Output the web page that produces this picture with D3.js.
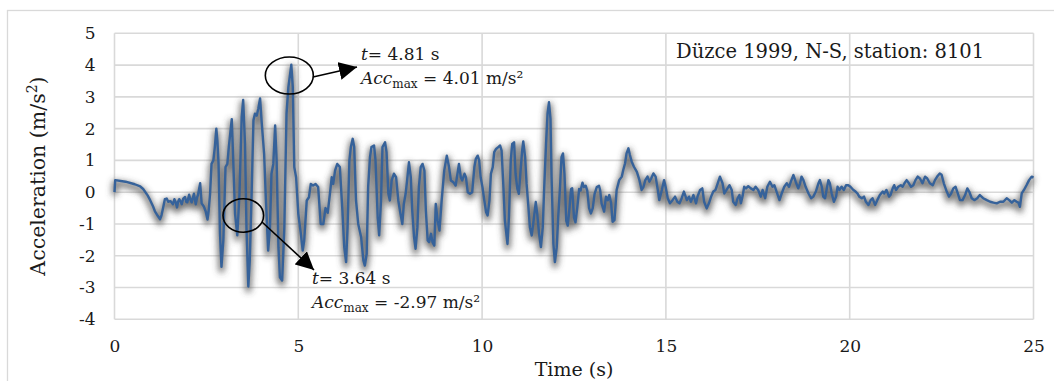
<!DOCTYPE html>
<html><head><meta charset="utf-8">
<script src="https://cdn.jsdelivr.net/npm/d3@7"></script>
<style>
html,body{margin:0;padding:0;background:#fff;}
svg text{font-family:"DejaVu Serif",serif;fill:#1a1a1a;}
</style></head>
<body><svg id="chart" width="1054" height="381"></svg>
<script>
const timeS = [0,0.02,0.3,0.55,0.7,0.78,0.9,0.97,1.05,1.1,1.18,1.24,1.28,1.33,1.37,1.42,1.46,1.52,1.59,1.63,1.66,1.7,1.73,1.76,1.8,1.83,1.87,1.92,1.95,1.98,2.03,2.07,2.1,2.16,2.21,2.25,2.27,2.33,2.37,2.43,2.48,2.53,2.56,2.6,2.64,2.69,2.73,2.77,2.8,2.83,2.87,2.91,2.96,3.02,3.07,3.11,3.19,3.23,3.28,3.34,3.4,3.46,3.5,3.55,3.59,3.64,3.68,3.73,3.78,3.82,3.87,3.91,3.96,4.0,4.07,4.12,4.18,4.23,4.27,4.32,4.37,4.41,4.46,4.5,4.56,4.62,4.68,4.73,4.81,4.85,4.89,4.94,5.0,5.07,5.12,5.16,5.23,5.29,5.34,5.4,5.47,5.54,5.61,5.68,5.74,5.8,5.86,5.91,5.95,6.0,6.06,6.13,6.2,6.25,6.3,6.34,6.39,6.43,6.48,6.52,6.57,6.63,6.71,6.77,6.81,6.86,6.9,6.95,6.99,7.06,7.1,7.16,7.2,7.25,7.29,7.36,7.4,7.45,7.49,7.54,7.6,7.66,7.72,7.78,7.83,7.87,7.92,7.96,8.01,8.06,8.1,8.15,8.19,8.24,8.28,8.33,8.38,8.43,8.47,8.52,8.56,8.61,8.65,8.7,8.74,8.79,8.84,8.9,8.97,9.04,9.1,9.15,9.22,9.28,9.33,9.37,9.42,9.46,9.52,9.56,9.61,9.67,9.73,9.79,9.83,9.88,9.92,9.96,10.01,10.06,10.11,10.15,10.2,10.24,10.29,10.33,10.38,10.44,10.49,10.53,10.58,10.62,10.69,10.73,10.78,10.82,10.87,10.91,10.96,11.0,11.04,11.09,11.12,11.17,11.21,11.26,11.3,11.35,11.39,11.46,11.5,11.55,11.6,11.65,11.69,11.74,11.78,11.82,11.86,11.89,11.94,11.98,12.03,12.07,12.12,12.16,12.2,12.24,12.29,12.33,12.37,12.42,12.45,12.5,12.54,12.59,12.64,12.68,12.73,12.77,12.82,12.86,12.91,12.96,13.01,13.06,13.12,13.18,13.21,13.25,13.32,13.37,13.42,13.46,13.51,13.55,13.6,13.66,13.73,13.8,13.84,13.89,13.93,13.98,14.02,14.07,14.13,14.21,14.28,14.34,14.39,14.44,14.5,14.55,14.6,14.66,14.72,14.78,14.82,14.89,14.95,15.0,15.05,15.11,15.18,15.25,15.31,15.37,15.43,15.49,15.57,15.63,15.68,15.75,15.82,15.86,15.93,15.99,16.04,16.11,16.17,16.23,16.29,16.35,16.41,16.47,16.54,16.59,16.65,16.73,16.79,16.83,16.9,16.95,17.0,17.04,17.09,17.13,17.18,17.24,17.31,17.38,17.44,17.51,17.58,17.63,17.7,17.76,17.83,17.9,17.95,18.01,18.09,18.15,18.22,18.29,18.35,18.4,18.47,18.53,18.6,18.65,18.69,18.74,18.8,18.88,18.95,19.01,19.08,19.15,19.19,19.24,19.28,19.33,19.37,19.42,19.46,19.51,19.57,19.63,19.67,19.72,19.78,19.84,19.9,19.96,20.02,20.1,20.16,20.21,20.26,20.33,20.39,20.44,20.51,20.57,20.62,20.69,20.75,20.82,20.9,20.94,21.0,21.07,21.11,21.17,21.21,21.26,21.32,21.39,21.44,21.49,21.55,21.61,21.67,21.73,21.79,21.85,21.91,21.98,22.05,22.11,22.18,22.26,22.32,22.38,22.45,22.5,22.56,22.64,22.7,22.76,22.82,22.88,22.94,23.0,23.07,23.14,23.2,23.25,23.32,23.39,23.47,23.54,23.63,23.73,23.82,23.91,24.0,24.09,24.18,24.27,24.34,24.41,24.48,24.54,24.59,24.63,24.68,24.74,24.81,24.88,24.95,25.0];
const accel = [0.0,0.38,0.33,0.25,0.18,0.1,-0.1,-0.25,-0.45,-0.6,-0.75,-0.85,-0.72,-0.45,-0.22,-0.2,-0.3,-0.28,-0.38,-0.22,-0.3,-0.48,-0.3,-0.22,-0.3,-0.38,-0.2,-0.15,-0.3,-0.32,-0.08,-0.25,-0.32,-0.05,-0.38,-0.15,-0.1,0.28,-0.35,-0.45,-0.6,-0.86,-0.6,-0.05,0.89,1.0,1.42,2.0,1.6,0.9,-1.31,-2.35,-1.52,0.79,0.89,1.42,2.3,1.0,-0.68,-1.36,-0.05,2.36,2.9,1.52,-1.1,-2.97,-2.15,-0.05,2.26,2.47,2.41,2.62,2.95,2.26,1.21,-0.26,-1.84,-1.1,0.58,0.89,2.1,1.0,-1.73,-2.68,-2.78,-1.1,2.47,3.3,4.01,3.3,0.79,0.47,-0.68,-1.31,-1.84,-1.52,-0.26,-0.16,0.26,0.21,0.26,0.16,-1.0,-1.0,-0.5,-0.65,-0.05,0.47,0.26,0.68,0.89,0.79,-0.58,-1.73,-2.2,-1.1,1.0,1.42,1.68,1.42,-0.26,-1.0,-1.42,-2.15,-2.31,-1.94,0.16,1.1,1.42,1.47,1.0,-0.79,-1.36,-0.26,1.42,1.57,1.26,-0.05,-0.26,0.37,0.58,0.47,-0.26,-0.68,-1.0,-0.37,-0.05,0.37,0.94,0.47,-0.58,-1.42,-1.78,-1.1,0.16,0.79,0.89,0.68,-0.58,-1.52,-1.57,-1.31,-1.57,-1.68,-0.37,-0.89,-1.21,-0.26,0.68,1.15,0.79,0.37,0.31,0.21,0.58,0.89,0.47,0.37,0.58,0.47,0.0,-0.05,0.0,0.79,1.05,1.15,1.0,0.47,0.16,-0.26,-0.63,-0.73,-0.26,0.58,0.79,1.26,1.36,1.42,1.47,1.31,0.16,-0.89,-1.63,-0.79,1.0,1.52,1.57,0.58,0.1,-0.05,0.58,1.31,1.6,1.1,0.26,-0.47,-1.1,-1.36,-1.0,-0.31,-0.68,-1.31,-1.73,-1.1,0.16,1.52,2.47,2.83,2.31,0.47,-1.63,-2.2,-1.73,-0.79,0.16,1.1,1.22,0.58,-0.9,-1.05,-0.6,0.1,0.12,-0.8,-0.95,-0.47,0.1,0.05,0.3,0.16,0.2,0.05,-0.5,-0.67,-0.5,-0.05,0.16,0.2,0.07,-0.35,-0.61,-0.14,-0.25,-0.09,-0.35,-0.93,-0.88,0.07,0.38,0.49,0.7,0.91,1.22,1.38,1.17,0.96,0.8,0.64,0.38,0.07,0.17,0.38,0.49,0.33,0.43,0.59,0.49,0.07,-0.25,0.07,0.38,0.12,-0.19,-0.35,-0.25,-0.14,-0.3,-0.35,-0.19,0.02,-0.25,-0.14,-0.3,-0.09,-0.35,-0.14,0.07,0.12,-0.3,-0.51,-0.35,-0.14,0.02,0.07,0.28,0.49,0.28,-0.04,0.07,0.22,0.07,-0.3,-0.4,-0.19,-0.09,-0.35,-0.1,0.17,0.12,0.19,0.12,0.07,0.17,0.07,-0.14,0.07,-0.19,0.17,0.33,0.17,0.22,0.02,-0.25,-0.04,0.17,0.28,0.17,0.33,0.54,0.33,0.12,0.28,0.49,0.38,0.17,-0.04,-0.19,-0.14,0.02,0.28,0.38,0.17,-0.14,-0.19,0.07,0.38,0.28,-0.04,-0.3,-0.14,0.17,0.07,0.17,0.07,0.22,0.22,0.17,0.07,0.02,-0.04,-0.14,-0.19,-0.14,-0.3,-0.4,-0.25,-0.19,-0.4,-0.25,-0.09,0.02,-0.04,0.07,-0.14,-0.09,0.12,0.22,0.07,0.17,0.22,0.17,0.28,0.38,0.28,0.17,0.22,0.38,0.49,0.43,0.28,0.49,0.43,0.28,0.22,0.38,0.49,0.59,0.55,0.28,0.02,-0.14,-0.04,0.12,0.17,-0.04,-0.25,-0.25,-0.09,0.12,0.02,-0.19,-0.25,-0.19,-0.09,-0.19,-0.25,-0.3,-0.33,-0.35,-0.3,-0.3,-0.19,-0.25,-0.33,-0.25,-0.3,-0.33,-0.46,-0.04,0.07,0.22,0.38,0.49,0.46];
const xTicks = [0,5,10,15,20,25];
const yTicks = [-4,-3,-2,-1,0,1,2,3,4,5];
const chartLabel = "Düzce 1999, N-S, station: 8101";
const peakMax = {t: 4.81, acc: 4.01};
const peakMin = {t: 3.64, acc: -2.97};

const svg = d3.select("#chart");
const L = 114.5, R = 1033.5, T = 33.3, B = 319.3;
const x = d3.scaleLinear().domain([0,25]).range([L,R]);
const y = d3.scaleLinear().domain([-4,5]).range([B,T]);
const grid = "#d9d9d9";

// outer chart frame
svg.append("rect").attr("x",7.5).attr("y",10.5).attr("width",1060).attr("height",400)
  .attr("fill","none").attr("stroke",grid).attr("stroke-width",1.3);

// gridlines
svg.append("g").selectAll("line").data(yTicks).join("line")
  .attr("x1",L).attr("x2",R).attr("y1",d=>y(d)).attr("y2",d=>y(d))
  .attr("stroke",grid).attr("stroke-width",1.6);
svg.append("g").selectAll("line").data(xTicks).join("line")
  .attr("y1",T).attr("y2",B).attr("x1",d=>x(d)).attr("x2",d=>x(d))
  .attr("stroke",grid).attr("stroke-width",1.6);

// axes labels via d3 axes
const yAxis = svg.append("g").attr("transform",`translate(${L},0)`)
  .call(d3.axisLeft(y).tickValues(yTicks).tickSize(0).tickPadding(19).tickFormat(d3.format("d")));
const xAxis = svg.append("g").attr("transform",`translate(0,${B})`)
  .call(d3.axisBottom(x).tickValues(xTicks).tickSize(0).tickPadding(21).tickFormat(d3.format("d")));
[yAxis,xAxis].forEach(a=>{a.select(".domain").remove();
  a.selectAll("text").attr("font-family","DejaVu Serif").attr("font-size",17).attr("fill","#1a1a1a");});
yAxis.selectAll("text").text(d=>d<0? "-"+Math.abs(d) : d);

// title text
svg.append("text").attr("x",676).attr("y",58).attr("font-size",19.5).text(chartLabel);

// shadow filter
const defs = svg.append("defs");
const f = defs.append("filter").attr("id","sh").attr("x","-5%").attr("y","-20%").attr("width","110%").attr("height","140%");
f.append("feGaussianBlur").attr("stdDeviation",3);

const line = d3.line().x((d,i)=>x(timeS[i])).y((d,i)=>y(accel[i]));
svg.append("path").datum(accel).attr("d",line).attr("fill","none")
  .attr("stroke","#4a4a4a").attr("stroke-width",6).attr("stroke-opacity",0.75)
  .attr("stroke-linejoin","round").attr("transform","translate(0,3)").attr("filter","url(#sh)");
svg.append("path").datum(accel).attr("d",line).attr("fill","none")
  .attr("stroke","#36629a").attr("stroke-width",2.4).attr("stroke-linejoin","round");

// annotations
defs.append("marker").attr("id","arr").attr("viewBox","0 0 10 10").attr("refX",10).attr("refY",5)
  .attr("markerWidth",18).attr("markerHeight",18).attr("markerUnits","userSpaceOnUse").attr("orient","auto")
  .append("path").attr("d","M0,0 L10,5 L0,10 Z").attr("fill","#000");

svg.append("ellipse").attr("cx",x(peakMax.t)-2).attr("cy",75.5).attr("rx",24).attr("ry",18.5)
  .attr("fill","none").attr("stroke","#000").attr("stroke-width",1.6);
svg.append("line").attr("x1",313).attr("y1",77).attr("x2",357).attr("y2",67)
  .attr("stroke","#000").attr("stroke-width",1.6).attr("marker-end","url(#arr)");
svg.append("ellipse").attr("cx",x(peakMin.t)-5).attr("cy",215.5).attr("rx",20.3).attr("ry",16.7)
  .attr("fill","none").attr("stroke","#000").attr("stroke-width",1.6);
svg.append("line").attr("x1",262).attr("y1",222).attr("x2",314).attr("y2",270)
  .attr("stroke","#000").attr("stroke-width",1.6).attr("marker-end","url(#arr)");

function annot(x0, y0, p){
  const t1 = svg.append("text").attr("x",x0).attr("y",y0).attr("font-size",17);
  t1.append("tspan").attr("font-style","italic").text("t");
  t1.append("tspan").text("= " + p.t.toFixed(2) + " s");
  const t2 = svg.append("text").attr("x",x0).attr("y",y0+24).attr("font-size",17);
  t2.append("tspan").attr("font-style","italic").text("Acc");
  t2.append("tspan").attr("font-size",12).attr("dy",4).text("max");
  t2.append("tspan").attr("dy",-4).text(" = " + p.acc.toFixed(2) + " m/s²");
}
annot(361, 60, peakMax);
annot(312, 284, peakMin);

// axis titles
const yt = svg.append("text").attr("transform","translate(45,176) rotate(-90)")
  .attr("text-anchor","middle").attr("font-size",20.5);
yt.append("tspan").text("Acceleration (m/s");
yt.append("tspan").attr("font-size",14).attr("dy",-8).text("2");
yt.append("tspan").attr("dy",8).text(")");
svg.append("text").attr("x",574).attr("y",376).attr("text-anchor","middle").attr("font-size",19).text("Time (s)");
</script></body></html>
